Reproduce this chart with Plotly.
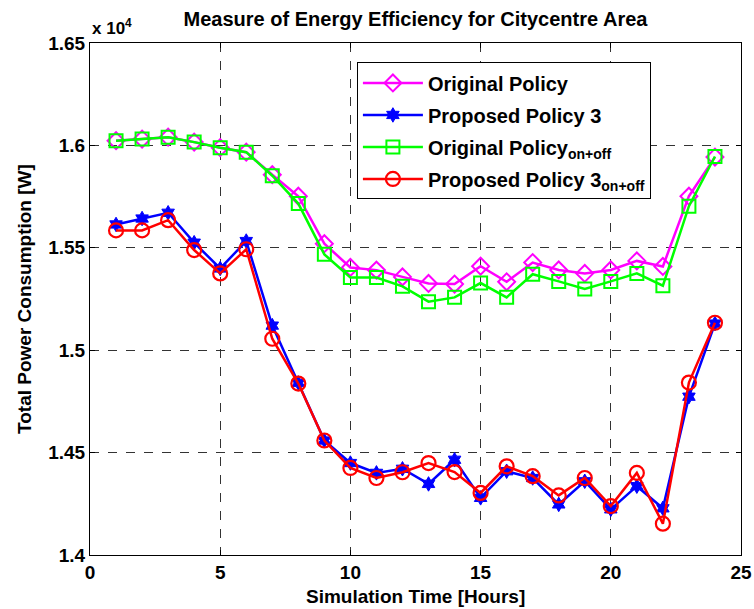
import plotly.graph_objects as go

hours = list(range(1, 25))
original = [16023, 16031, 16040, 16016, 15989, 15967, 15857, 15752, 15520, 15404,
            15391, 15358, 15326, 15323, 15410, 15334, 15428, 15392, 15375, 15392,
            15436, 15409, 15752, 15943]
proposed3 = [15614, 15643, 15671, 15525, 15399, 15533, 15120, 14840, 14559, 14449,
             14401, 14421, 14347, 14465, 14279, 14409, 14376, 14247, 14360, 14223,
             14336, 14228, 14773, 15130]
original_onoff = [16023, 16031, 16040, 16016, 15989, 15967, 15852, 15716, 15468, 15355,
                  15355, 15312, 15237, 15258, 15328, 15258, 15371, 15336, 15299, 15336,
                  15375, 15315, 15703, 15946]
proposed3_onoff = [15585, 15585, 15635, 15489, 15375, 15493, 15056, 14837, 14559, 14425,
                   14376, 14404, 14449, 14405, 14303, 14433, 14385, 14291, 14376, 14239,
                   14401, 14153, 14842, 15134]

y_tickvals = [14000, 14500, 15000, 15500, 16000, 16500]
y_ticktext = ["1.4", "1.45", "1.5", "1.55", "1.6", "1.65"]
x_tickvals = [0, 5, 10, 15, 20, 25]

FONT = "Liberation Sans, Arial, sans-serif"
FS = 19

fig = go.Figure()
fig.add_trace(go.Scatter(x=hours, y=original, mode="lines+markers", name="<b>Original Policy</b>",
                         legendgroup="a",
                         line=dict(color="#ff00ff", width=2.5),
                         marker=dict(symbol="diamond-open", size=13, color="#ff00ff", line=dict(width=2))))
fig.add_trace(go.Scatter(x=hours, y=proposed3, mode="lines+markers", name="<b>Proposed Policy 3</b>",
                         legendgroup="b",
                         line=dict(color="#0000ff", width=2.5),
                         marker=dict(symbol="hexagram", size=11, color="#0000ff", line=dict(width=1, color="#0000ff"))))
fig.add_trace(go.Scatter(x=hours, y=original_onoff, mode="lines+markers",
                         name="<b>Original Policy<sub>on+off</sub></b>", legendgroup="c",
                         line=dict(color="#00ff00", width=2.5),
                         marker=dict(symbol="square-open", size=13, color="#00ff00", line=dict(width=2))))
fig.add_trace(go.Scatter(x=hours, y=proposed3_onoff, mode="lines+markers",
                         name="<b>Proposed Policy 3<sub>on+off</sub></b>", legendgroup="d",
                         line=dict(color="#ff0000", width=2.5),
                         marker=dict(symbol="circle-open", size=14, color="#ff0000", line=dict(width=2.2))))

axis_common = dict(showline=True, linecolor="black", linewidth=1, mirror="ticks",
                   ticks="inside", ticklen=5, tickcolor="black",
                   showgrid=True, gridcolor="#333333", griddash="dash", gridwidth=1,
                   zeroline=False, automargin=False,
                   tickfont=dict(family=FONT, size=FS, color="black"))

fig.update_xaxes(range=[0, 25], tickvals=x_tickvals, ticktext=["<b>%d</b>" % v for v in x_tickvals],
                 **axis_common)
fig.update_yaxes(range=[14000, 16500], tickvals=y_tickvals, ticktext=["<b>%s</b>" % t for t in y_ticktext],
                 **axis_common)

fig.update_layout(
    width=754, height=609,
    margin=dict(l=90, r=13, t=43, b=54),
    paper_bgcolor="white", plot_bgcolor="white",
    title=dict(text="<b>Measure of Energy Efficiency for Citycentre Area</b>",
               font=dict(family=FONT, size=20, color="black"),
               x=0.5, xref="paper", xanchor="center", y=1 - 19 / 609, yanchor="middle"),
    legend=dict(x=0.41, y=0.962, xanchor="left", yanchor="top",
                bgcolor="white", bordercolor="black", borderwidth=1,
                font=dict(family=FONT, size=20, color="black"),
                tracegroupgap=3, itemwidth=60),
    showlegend=True,
    annotations=[
        dict(text="<b>x 10<sup>4</sup></b>", xref="paper", yref="paper",
             x=0.0, y=1.0, xanchor="left", yanchor="bottom", yshift=3, showarrow=False,
             font=dict(family=FONT, size=17, color="black")),
        dict(text="<b>Simulation Time [Hours]</b>", xref="paper", yref="paper",
             x=0.5, y=(555 - 597) / 512.5, xanchor="center", yanchor="middle", showarrow=False,
             font=dict(family=FONT, size=FS, color="black")),
        dict(text="<b>Total Power Consumption [W]</b>", xref="paper", yref="paper",
             x=(24 - 90) / 651, y=0.5, xanchor="center", yanchor="middle", showarrow=False,
             textangle=-90, font=dict(family=FONT, size=FS, color="black")),
    ],
)

fig.write_html("out.html", config={"displayModeBar": False},
               post_script="document.body.style.margin='0';document.body.style.overflow='hidden';")
